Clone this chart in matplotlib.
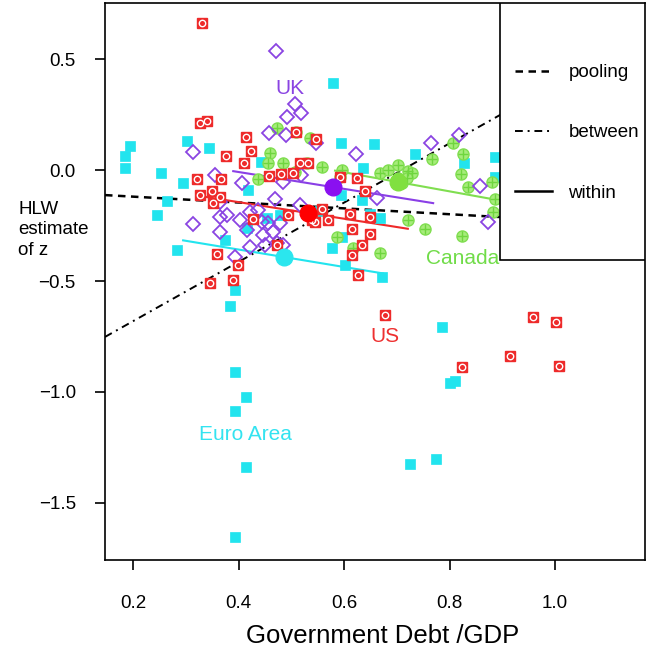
import matplotlib
matplotlib.use("Agg")
import matplotlib.pyplot as plt
from matplotlib.patches import Rectangle
from matplotlib.lines import Line2D
import numpy as np

plt.rcParams['font.family'] = ['Liberation Sans', 'DejaVu Sans']

# ---------------- data ----------------
euro_x = [0.185, 0.185, 0.194, 0.253, 0.302, 0.344, 0.295, 0.443, 0.418, 0.245, 0.264, 0.283,
          0.374, 0.416, 0.454, 0.479, 0.393, 0.384, 0.393, 0.414, 0.393, 0.414, 0.393, 0.786,
          0.801, 0.810, 0.725, 0.774, 0.579, 0.594, 0.657, 0.735, 0.827, 0.886, 0.636, 0.886,
          0.594, 0.634, 0.649, 0.668, 0.596, 0.577, 0.602, 0.672, 0.555]
euro_y = [0.063, 0.009, 0.108, -0.014, 0.131, 0.099, -0.059, 0.036, -0.090, -0.203, -0.140, -0.360,
          -0.315, -0.261, -0.216, -0.203, -0.541, -0.613, -0.910, -1.023, -1.086, -1.338, -1.653, -0.707,
          -0.959, -0.950, -1.324, -1.302, 0.392, 0.122, 0.117, 0.072, 0.032, 0.059, 0.009, -0.032,
          -0.113, -0.135, -0.198, -0.216, -0.302, -0.351, -0.428, -0.482, -0.185]

uk_x = [0.471, 0.507, 0.492, 0.518, 0.458, 0.490, 0.314, 0.355, 0.407, 0.484, 0.518, 0.547, 0.469,
        0.623, 0.765, 0.818, 0.858, 0.663, 0.365, 0.517, 0.314, 0.365, 0.378, 0.365, 0.403, 0.422,
        0.437, 0.416, 0.445, 0.456, 0.479, 0.446, 0.465, 0.422, 0.450, 0.393, 0.473, 0.484, 0.873]
uk_y = [0.536, 0.297, 0.239, 0.257, 0.167, 0.158, 0.081, -0.023, -0.059, -0.054, -0.023, 0.122, -0.131,
        0.072, 0.122, 0.158, -0.072, -0.126, -0.144, -0.158, -0.243, -0.212, -0.203, -0.279, -0.225, -0.189,
        -0.180, -0.270, -0.234, -0.239, -0.239, -0.293, -0.279, -0.347, -0.338, -0.392, -0.329, -0.338, -0.234]

us_x = [0.331, 0.327, 0.340, 0.414, 0.424, 0.376, 0.410, 0.321, 0.367, 0.458, 0.481, 0.503, 0.509,
        0.517, 0.532, 0.547, 0.327, 0.350, 0.365, 0.352, 0.494, 0.427, 0.473, 0.359, 0.399, 0.390,
        0.346, 0.545, 0.592, 0.625, 0.640, 0.558, 0.570, 0.539, 0.611, 0.615, 0.649, 0.649, 0.634,
        0.615, 0.627, 0.678, 0.958, 1.002, 0.824, 0.915, 1.008]
us_y = [0.662, 0.212, 0.221, 0.149, 0.086, 0.063, 0.032, -0.041, -0.041, -0.027, -0.018, -0.014, 0.171,
        0.032, 0.032, 0.140, -0.113, -0.095, -0.122, -0.149, -0.203, -0.221, -0.338, -0.378, -0.428, -0.495,
        -0.509, -0.234, -0.032, -0.036, -0.095, -0.176, -0.225, -0.225, -0.198, -0.266, -0.212, -0.288, -0.338,
        -0.383, -0.473, -0.653, -0.662, -0.685, -0.887, -0.838, -0.883]

can_x = [0.473, 0.509, 0.460, 0.484, 0.456, 0.437, 0.536, 0.530, 0.507, 0.558, 0.596, 0.592, 0.668,
         0.683, 0.702, 0.721, 0.729, 0.767, 0.807, 0.826, 0.822, 0.835, 0.881, 0.886, 0.882, 0.710,
         0.721, 0.754, 0.824, 0.668, 0.617, 0.587, 0.702, 0.719]
can_y = [0.189, 0.171, 0.077, 0.032, 0.032, -0.041, 0.144, 0.032, -0.009, 0.014, 0.000, -0.032, -0.014,
         0.000, 0.023, -0.005, -0.014, 0.050, 0.122, 0.072, -0.018, -0.077, -0.054, -0.131, -0.189, -0.059,
         -0.225, -0.266, -0.297, -0.374, -0.351, -0.302, -0.036, -0.036]

# country means (large dots)
mean_x = {"Euro Area": 0.486, "UK": 0.579, "US": 0.532, "Canada": 0.702}
mean_y = {"Euro Area": -0.392, "UK": -0.077, "US": -0.194, "Canada": -0.054}

# within-country fits: slope and x-range
within_slope = {"Euro Area": -0.393, "UK": -0.380, "US": -0.374, "Canada": -0.430}
within_range = {"Euro Area": (0.295, 0.674), "UK": (0.390, 0.769), "US": (0.336, 0.721), "Canada": (0.583, 0.95)}

# pooled and between fits (intercept, slope)
pool_coef = (-0.0936, -0.132)
between_coef = (-0.948, 1.335)

x_ticks = [0.2, 0.4, 0.6, 0.8, 1.0]
y_ticks = [-1.5, -1.0, -0.5, 0.0, 0.5]

colors = {"Euro Area": "#22E4EE", "UK": "#8A44E2", "US": "#EE2A2A", "Canada": "#80DE50"}
mean_colors = {"Euro Area": "#2BE6EE", "UK": "#8A10F0", "US": "#FF0000", "Canada": "#80E040"}

# ---------------- figure ----------------
fig = plt.figure(figsize=(6.56, 6.55), dpi=100)
ax = fig.add_axes([105 / 656, 1 - 560 / 655, 540 / 656, 557 / 655])
ax.set_xlim(0.1469, 1.1706)
ax.set_ylim(-1.7568, 0.7523)

# points
ax.plot(euro_x, euro_y, ls='none', marker='s', ms=6.5, mfc=colors["Euro Area"],
        mec=colors["Euro Area"], mew=0.5, zorder=3)
ax.plot(can_x, can_y, ls='none', marker='o', ms=8, mfc='#A6EC7A', mec=colors["Canada"], mew=1.0, zorder=3)
ax.plot(can_x, can_y, ls='none', marker='+', ms=7, mec='#6FD63E', mew=1.0, zorder=3)
ax.plot(uk_x, uk_y, ls='none', marker='D', ms=6.8, mfc='none', mec=colors["UK"], mew=1.3, zorder=3)
ax.plot(us_x, us_y, ls='none', marker='s', ms=7.8, mfc=colors["US"], mec=colors["US"], mew=1.0, zorder=3)
ax.plot(us_x, us_y, ls='none', marker='o', ms=4.6, mfc='none', mec='white', mew=1.0, zorder=3)

# lines
xs = np.array(ax.get_xlim())
ax.plot(xs, pool_coef[0] + pool_coef[1] * xs, color='black', lw=1.8, ls=(0, (3, 2.2)), zorder=2)
ax.plot(xs, between_coef[0] + between_coef[1] * xs, color='black', lw=1.4,
        ls=(0, (4, 2.5, 1, 2.5)), zorder=2)

for c in ["Euro Area", "UK", "US", "Canada"]:
    xr = np.array(within_range[c])
    yr = mean_y[c] + within_slope[c] * (xr - mean_x[c])
    ax.plot(xr, yr, color=colors[c] if c != "UK" else "#8A3FE6", lw=1.5, zorder=2.5)
    ax.plot([mean_x[c]], [mean_y[c]], ls='none', marker='o', ms=12, mfc=mean_colors[c],
            mec=mean_colors[c], zorder=4)

# country labels
ax.text(0.498, 0.369, "UK", color="#8A44E2", fontsize=15, ha='center', va='center', zorder=4)
ax.text(0.678, -0.748, "US", color="#EE3030", fontsize=15, ha='center', va='center', zorder=4)
ax.text(0.895, -0.40, "Canada", color="#70DC48", fontsize=15, ha='right', va='center', zorder=4)
ax.text(0.414, -1.19, "Euro Area", color="#33E3F0", fontsize=15, ha='center', va='center', zorder=4)

# legend box (covers plot region, as in the original)
ax.add_patch(Rectangle((0.7315, 0.5386), 0.2685, 0.4614, transform=ax.transAxes,
                       facecolor='white', edgecolor='black', lw=1.2, zorder=6))
handles = [Line2D([], [], color='black', lw=1.8, ls=(0, (3, 2.2))),
           Line2D([], [], color='black', lw=1.4, ls=(0, (4, 2.5, 1, 2.5))),
           Line2D([], [], color='black', lw=1.8)]
leg = ax.legend(handles, ["pooling", "between", "within"], loc='center left',
                bbox_to_anchor=(0.759, 0.767), frameon=False, fontsize=13.5,
                handlelength=2.0, handletextpad=0.85, labelspacing=2.3, borderpad=0,
                borderaxespad=0)
leg.set_zorder(7)

# axes styling
ax.set_xticks(x_ticks)
ax.set_yticks(y_ticks)
ax.tick_params(axis='both', direction='out', length=7, width=1.2, labelsize=13.5)
ax.tick_params(axis='x', pad=18)
ax.tick_params(axis='y', pad=14)
for s in ax.spines.values():
    s.set_linewidth(1.2)

ax.set_xlabel("Government Debt /GDP", fontsize=18.5, va='center')
ax.xaxis.set_label_coords(0.515, -0.1364)
ax.set_ylabel("HLW\nestimate\nof z", rotation=0, fontsize=13.5, ha='left', va='center',
              multialignment='left', linespacing=1.3)
ax.yaxis.set_label_coords(-0.161, 0.5925)

fig.savefig("out.png", dpi=100)
